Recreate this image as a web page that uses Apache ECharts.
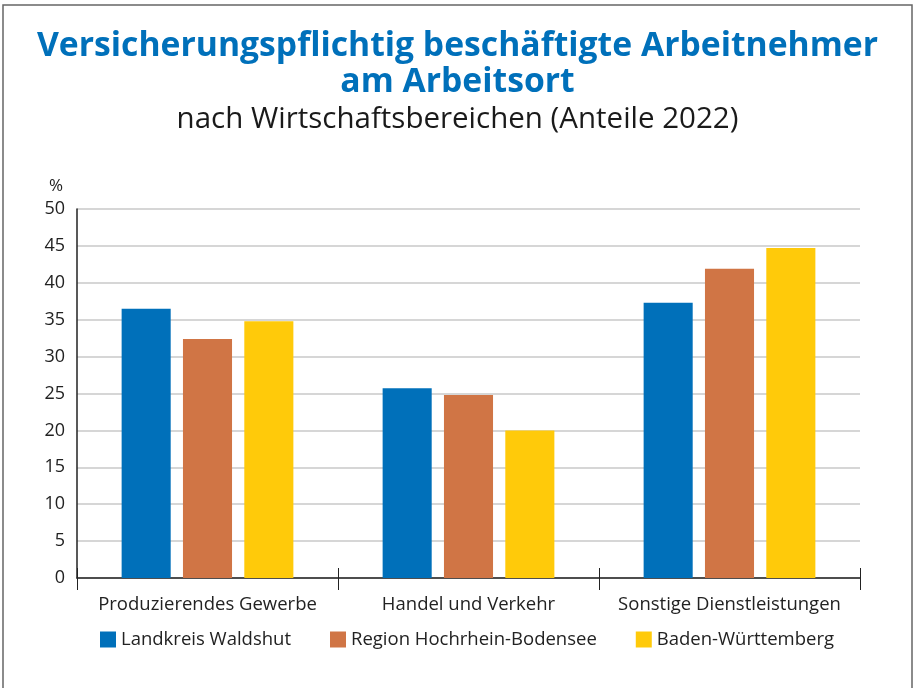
<!DOCTYPE html>
<html><head><meta charset="utf-8">
<script src="https://cdn.jsdelivr.net/npm/echarts@6/dist/echarts.min.js"></script>
<style>html,body{margin:0;padding:0;background:#fff}#c{width:915px;height:688px}</style>
</head><body><div id="c"></div>
<script>
const categories = ['Produzierendes Gewerbe', 'Handel und Verkehr', 'Sonstige Dienstleistungen'];
const seriesNames = ['Landkreis Waldshut', 'Region Hochrhein-Bodensee', 'Baden-Württemberg'];
const waldshut = [36.5, 25.7, 37.3];
const hochrhein = [32.4, 24.8, 41.9];
const bw = [34.8, 20.0, 44.7];
const colors = ['#0070BA', '#D07545', '#FFCA0A'];
const FONT = 'Open Sans';

const chart = echarts.init(document.getElementById('c'));
const data = [waldshut, hochrhein, bw];
const titleStyle = {fontFamily: FONT, fontWeight: 'bold', fontSize: 33.7, color: '#0070BA'};
chart.setOption({
  animation: false,
  textStyle: {fontFamily: FONT},
  title: [
    {text: 'Versicherungspflichtig beschäftigte Arbeitnehmer', left: 'center', top: 24, textStyle: titleStyle},
    {text: 'am Arbeitsort', left: 'center', top: 60, textStyle: titleStyle},
    {text: 'nach Wirtschaftsbereichen (Anteile 2022)', left: 'center', top: 100,
     textStyle: {fontFamily: FONT, fontWeight: 'normal', fontSize: 29.5, color: '#1a1a1a'}}
  ],
  graphic: [{type: 'rect', shape: {x: 3, y: 5, width: 909, height: 700}, style: {fill: 'none', stroke: '#666', lineWidth: 1.5}, silent: true}],
  legend: {bottom: 34, left: 95, itemWidth: 16, itemHeight: 16, itemGap: 39, icon: 'rect',
    textStyle: {fontFamily: FONT, fontSize: 18.5, color: '#222'}, data: seriesNames},
  grid: {left: 77, right: 55, top: 209, bottom: 110, containLabel: false},
  xAxis: [
    {type: 'category', data: categories, position: 'bottom',
     axisLine: {lineStyle: {color: '#222', width: 1.5}},
     axisTick: {show: true, length: 12, lineStyle: {color: '#222', width: 1}},
     axisLabel: {interval: 0, fontFamily: FONT, fontSize: 18.5, color: '#222', margin: 17}},
    {type: 'category', data: categories, position: 'bottom', gridIndex: 0,
     axisLine: {show: false},
     axisTick: {show: true, inside: true, length: 10, lineStyle: {color: '#222', width: 1}},
     axisLabel: {show: false}}
  ],
  yAxis: {type: 'value', min: 0, max: 50, interval: 5,
    name: '%', nameLocation: 'end', nameGap: 14,
    nameTextStyle: {fontFamily: FONT, fontSize: 17, color: '#222', align: 'right', padding: [0, 14, 0, 0]},
    axisLine: {show: true, lineStyle: {color: '#222', width: 1.5}},
    axisTick: {show: false},
    axisLabel: {fontFamily: FONT, fontSize: 18, color: '#222', margin: 12},
    splitLine: {lineStyle: {color: '#c8c8c8', width: 1.5}}},
  series: seriesNames.map((n, i) => ({
    name: n, type: 'bar', data: data[i], xAxisIndex: 0,
    barWidth: '18.8%', barGap: '25%', barCategoryGap: '34%',
    itemStyle: {color: colors[i]}
  }))
});
</script></body></html>
